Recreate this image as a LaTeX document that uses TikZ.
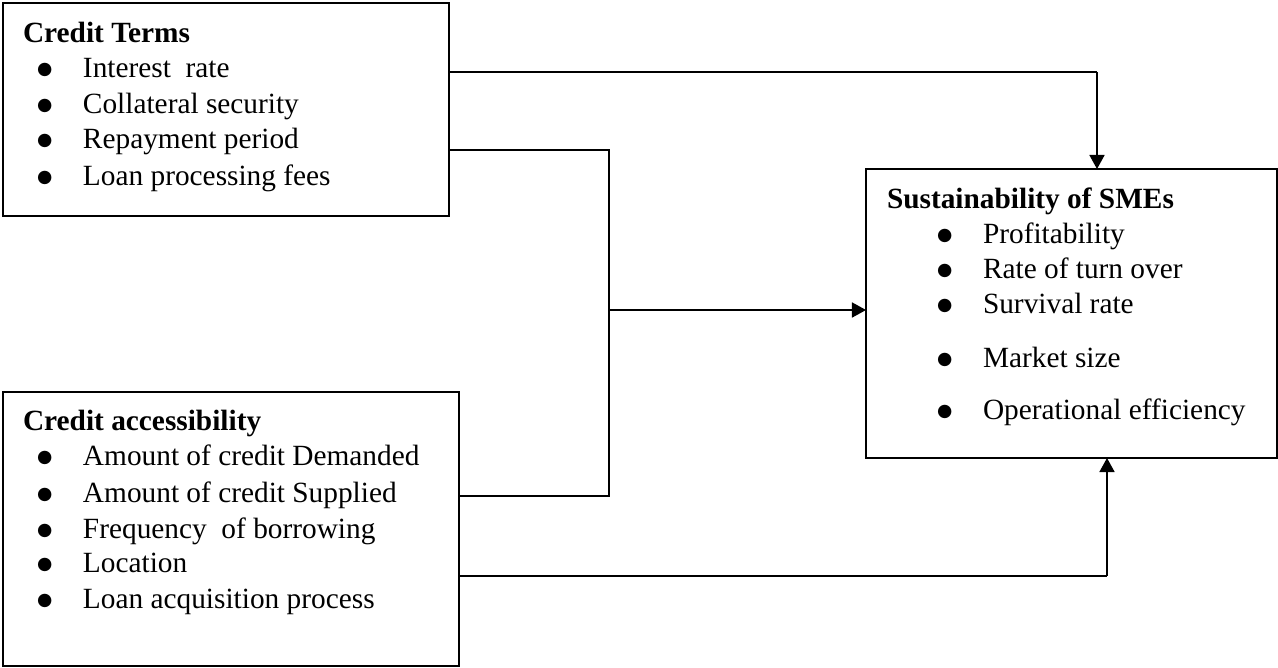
\documentclass[tikz,border=0pt]{standalone}
\usepackage{fontspec}
\setmainfont{Liberation Serif}
\newfontfamily\dotfont{DejaVu Sans}
\usetikzlibrary{arrows.meta}
\newcommand{\bitem}[1]{\makebox[0.92cm][l]{\raisebox{1.5pt}{\dotfont\fontsize{10}{10}\selectfont ●}}#1}

\begin{document}
\begin{tikzpicture}[x=0.02cm, y=-0.02cm,
    every node/.style={font=\fontsize{16.7}{20}\selectfont, inner sep=0pt, outer sep=0pt},
    box/.style={draw, line width=1.1pt},
    txt/.style={anchor=base west},
    conn/.style={line width=0.6pt},
    arr/.style={line width=1.1pt, -{Triangle[length=8pt,width=8.5pt]}}]
  \useasboundingbox (0,0) rectangle (1278,667);

  % boxes
  \node[box, minimum width=8.92cm, minimum height=4.26cm] (terms) at (226,109.5) {};
  \node[box, minimum width=9.12cm, minimum height=5.48cm] (access) at (231,529) {};
  \node[box, minimum width=8.22cm, minimum height=5.78cm] (sust) at (1071.5,313.5) {};

  % credit terms
  \node[txt] (termsT) at (23,42) {\textbf{Credit Terms}};
  \node[txt] (terms1) at (37,77) {\bitem{Interest\ \ rate}};
  \node[txt] (terms2) at (37,113) {\bitem{Collateral security}};
  \node[txt] (terms3) at (37,148) {\bitem{Repayment period}};
  \node[txt] (terms4) at (37,185) {\bitem{Loan processing fees}};

  % credit accessibility
  \node[txt] (accessT) at (23,430) {\textbf{Credit accessibility}};
  \node[txt] (access1) at (37,465) {\bitem{Amount of credit Demanded}};
  \node[txt] (access2) at (37,502) {\bitem{Amount of credit Supplied}};
  \node[txt] (access3) at (37,538) {\bitem{Frequency\ \ of borrowing}};
  \node[txt] (access4) at (37,572) {\bitem{Location}};
  \node[txt] (access5) at (37,608) {\bitem{Loan acquisition process}};

  % sustainability
  \node[txt] (sustT) at (887,208) {\textbf{Sustainability of SMEs}};
  \node[txt] (sust1) at (937,243) {\bitem{Profitability}};
  \node[txt] (sust2) at (937,278) {\bitem{Rate of turn over}};
  \node[txt] (sust3) at (937,313) {\bitem{Survival rate}};
  \node[txt] (sust4) at (937,367) {\bitem{Market size}};
  \node[txt] (sust5) at (937,419) {\bitem{Operational efficiency}};

  \coordinate (j1) at (1097,72);
  \coordinate (jt) at (609,150);
  \coordinate (jm) at (609,310);
  \coordinate (ja) at (609,496);
  \coordinate (j3) at (1107,576);

  \draw[conn] (terms.east |- j1) -- (j1);
  \draw[arr] (j1) -- (sust.north -| j1);

  \draw[conn] (terms.east |- jt) -- (jt) -- (ja) -- (access.east |- ja);
  \draw[arr] (jm) -- (sust.west |- jm);

  \draw[conn] (access.east |- j3) -- (j3);
  \draw[arr] (j3) -- (sust.south -| j3);
\end{tikzpicture}
\end{document}
